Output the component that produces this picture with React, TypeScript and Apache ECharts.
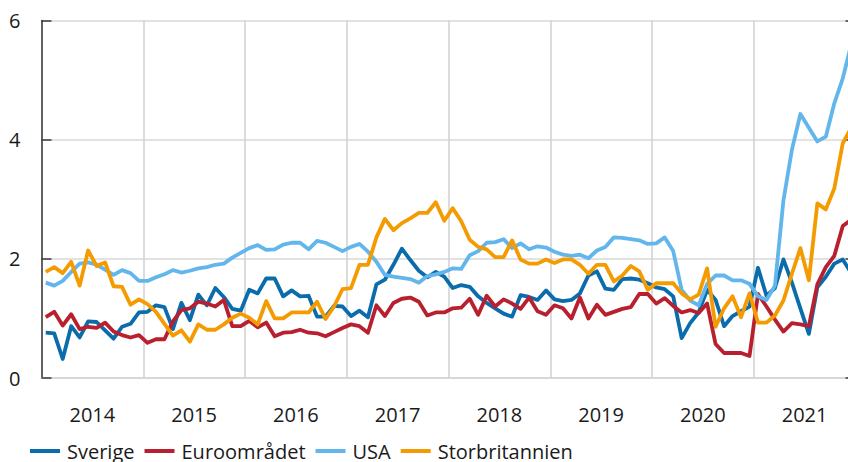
import React, { useEffect, useRef } from "react";
import * as echarts from "echarts";

const years = ["2014", "2015", "2016", "2017", "2018", "2019", "2020", "2021"];

// Monthly values, Jan 2014 – Dec 2021
const sverige = [
  0.76, 0.75, 0.32, 0.87, 0.68, 0.95, 0.94, 0.8, 0.66, 0.86, 0.91, 1.1,
  1.11, 1.22, 1.19, 0.82, 1.26, 0.97, 1.4, 1.22, 1.51, 1.36, 1.16, 1.13,
  1.48, 1.42, 1.67, 1.67, 1.37, 1.47, 1.37, 1.38, 1.03, 1.03, 1.21, 1.2,
  1.04, 1.13, 1.02, 1.57, 1.65, 1.9, 2.17, 1.98, 1.8, 1.69, 1.78, 1.7,
  1.51, 1.56, 1.53, 1.37, 1.26, 1.17, 1.08, 1.03, 1.39, 1.36, 1.31, 1.47,
  1.32, 1.29, 1.31, 1.42, 1.72, 1.79, 1.5, 1.48, 1.66, 1.67, 1.65, 1.59,
  1.52, 1.49, 1.37, 0.67, 0.92, 1.1, 1.48, 1.31, 0.87, 1.04, 1.12, 1.2,
  1.85, 1.38, 1.51, 1.99, 1.6, 1.17, 0.74, 1.52, 1.7, 1.92, 1.99, 1.76,
];
const euro = [
  1.02, 1.11, 0.88, 1.07, 0.82, 0.86, 0.84, 0.93, 0.78, 0.72, 0.68, 0.72,
  0.59, 0.65, 0.65, 0.95, 1.14, 1.17, 1.28, 1.25, 1.2, 1.31, 0.87, 0.87,
  0.96, 0.85, 0.93, 0.7, 0.76, 0.77, 0.81, 0.76, 0.75, 0.7, 0.77, 0.84,
  0.9, 0.87, 0.76, 1.22, 1.04, 1.26, 1.33, 1.35, 1.28, 1.05, 1.1, 1.1,
  1.17, 1.18, 1.33, 1.06, 1.38, 1.2, 1.32, 1.25, 1.16, 1.35, 1.12, 1.06,
  1.22, 1.17, 1.0, 1.35, 1.0, 1.23, 1.06, 1.11, 1.16, 1.19, 1.41, 1.41,
  1.25, 1.34, 1.21, 1.1, 1.14, 1.09, 1.25, 0.57, 0.42, 0.42, 0.42, 0.37,
  1.41, 1.2, 0.98, 0.78, 0.92, 0.9, 0.87, 1.57, 1.86, 2.05, 2.55, 2.66,
];
const usa = [
  1.6, 1.55, 1.63, 1.78, 1.92, 1.94, 1.9, 1.82, 1.73, 1.81, 1.76, 1.63,
  1.63, 1.69, 1.74, 1.81, 1.77, 1.8, 1.84, 1.86, 1.9, 1.92, 2.02, 2.1,
  2.18, 2.23, 2.15, 2.16, 2.24, 2.27, 2.27, 2.16, 2.3, 2.27, 2.2, 2.13,
  2.2, 2.25, 2.12, 1.95, 1.73, 1.7, 1.68, 1.66, 1.6, 1.71, 1.74, 1.78,
  1.84, 1.83, 2.06, 2.13, 2.27, 2.28, 2.33, 2.18, 2.26, 2.16, 2.21, 2.19,
  2.12, 2.07, 2.05, 2.07, 2.01, 2.14, 2.2, 2.36, 2.35, 2.33, 2.31, 2.25,
  2.26, 2.36, 2.13, 1.48, 1.3, 1.22, 1.58, 1.72, 1.72, 1.64, 1.64, 1.58,
  1.37, 1.31, 1.55, 2.98, 3.83, 4.43, 4.2, 3.97, 4.05, 4.61, 5.03, 5.6,
];
const storbritannien = [
  1.78, 1.86, 1.76, 1.95, 1.55, 2.14, 1.88, 1.94, 1.54, 1.53, 1.23, 1.32,
  1.24, 1.11, 0.91, 0.71, 0.8, 0.61, 0.9, 0.81, 0.81, 0.9, 1.01, 1.08,
  1.01, 0.9, 1.29, 1.0, 1.0, 1.1, 1.1, 1.1, 1.28, 0.99, 1.2, 1.49,
  1.51, 1.9, 1.9, 2.36, 2.67, 2.48, 2.6, 2.68, 2.77, 2.77, 2.95, 2.64,
  2.85, 2.63, 2.32, 2.2, 2.16, 2.03, 2.03, 2.31, 1.99, 1.92, 1.92, 1.99,
  1.93, 1.99, 1.99, 1.9, 1.75, 1.9, 1.9, 1.62, 1.72, 1.88, 1.79, 1.48,
  1.59, 1.59, 1.59, 1.42, 1.32, 1.4, 1.84, 0.86, 1.17, 1.37, 1.02, 1.42,
  0.93, 0.93, 1.05, 1.3, 1.75, 2.18, 1.64, 2.93, 2.83, 3.18, 3.94, 4.2,
];
const yTicks = [0, 2, 4, 6];

const seriesDefs = [
  { name: "Sverige", data: sverige, color: "#0b6cac" },
  { name: "Euroområdet", data: euro, color: "#b8202f" },
  { name: "USA", data: usa, color: "#63b6ec" },
  { name: "Storbritannien", data: storbritannien, color: "#f39b00" },
];

const FONT = "'Open Sans', 'Noto Sans', sans-serif";

export default function App() {
  const ref = useRef<HTMLDivElement>(null);
  useEffect(() => {
    if (!ref.current) return;
    const chart = echarts.init(ref.current, null, { renderer: "svg" });
    const months = years.length * 12;
    chart.setOption({
      animation: false,
      backgroundColor: "#ffffff",
      textStyle: { fontFamily: FONT },
      grid: { left: 41.5, right: 0.5, top: 20.5, bottom: 84, containLabel: false },
      legend: {
        left: 30,
        top: 441,
        padding: 0,
        icon: "rect",
        itemWidth: 30,
        itemHeight: 4,
        itemGap: 10,
        textStyle: {
          fontFamily: FONT,
          fontSize: 20,
          color: "#1a1a1a",
          lineHeight: 20,
          padding: [0, 0, 0, 2],
        },
        data: seriesDefs.map((s) => s.name),
      },
      xAxis: [
        {
          type: "value",
          min: 0,
          max: months,
          interval: 12,
          axisLine: { show: true, lineStyle: { color: "#d4d4d4", width: 1.5 } },
          axisTick: { show: false },
          axisLabel: { show: false },
          splitLine: { show: true, lineStyle: { color: "#d0d0d0", width: 1.5 } },
        },
        {
          type: "category",
          position: "bottom",
          data: years,
          boundaryGap: true,
          axisLine: { show: false },
          axisTick: { show: false },
          splitLine: { show: false },
          axisLabel: {
            fontFamily: FONT,
            fontSize: 20,
            color: "#1a1a1a",
            margin: 26,
            interval: 0,
          },
        },
      ],
      yAxis: [
        {
          type: "value",
          min: yTicks[0],
          max: yTicks[yTicks.length - 1],
          interval: 2,
          axisLine: { show: true, lineStyle: { color: "#3a3a3a", width: 1.5 } },
          axisTick: { show: true, inside: true, length: 10, lineStyle: { color: "#3a3a3a", width: 1.5 } },
          axisLabel: { fontFamily: FONT, fontSize: 20, color: "#1a1a1a", margin: 21 },
          splitLine: { show: true, lineStyle: { color: "#d9d9d9", width: 1.5 } },
        },
        {
          type: "value",
          position: "right",
          min: yTicks[0],
          max: yTicks[yTicks.length - 1],
          interval: 2,
          axisLine: { show: false },
          axisTick: { show: true, inside: true, length: 10, lineStyle: { color: "#3a3a3a", width: 1.5 } },
          axisLabel: { show: false },
          splitLine: { show: false },
        },
      ],
      series: seriesDefs.map((s) => ({
        name: s.name,
        type: "line",
        xAxisIndex: 0,
        yAxisIndex: 0,
        data: s.data.map((v, i) => [i + 0.5, v]),
        showSymbol: false,
        symbol: "none",
        clip: true,
        color: s.color,
        lineStyle: { color: s.color, width: 3.8, join: "round" },
        itemStyle: { color: s.color },
      })),
    });
    return () => chart.dispose();
  }, []);
  return (
    <div
      style={{
        position: "fixed",
        left: 0,
        top: 0,
        width: 848,
        height: 462,
        overflow: "hidden",
        background: "#fff",
      }}
    >
      <div ref={ref} style={{ width: 856, height: 462 }} />
    </div>
  );
}
